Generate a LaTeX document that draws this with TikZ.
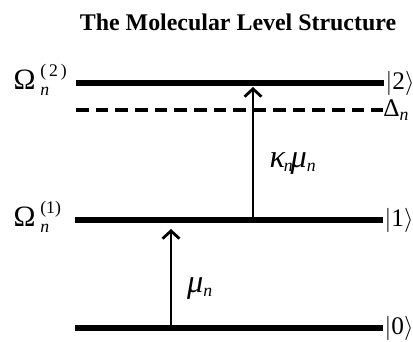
\documentclass[tikz,border=0pt]{standalone}
\usepackage{fontspec}
\setmainfont{Liberation Serif}
\usepackage{amsmath}
\usetikzlibrary{arrows.meta,positioning}
\tikzset{
  level/.style={line width=3.8pt},
  virtual/.style={line width=2.8pt, dash pattern=on 9pt off 5pt},
  trans/.style={line width=2pt, -{Straight Barb[length=5.5pt,width=12pt,line width=2pt]}},
  lbl/.style={font=\fontsize{18}{20}\selectfont, inner sep=1pt},
}
\newcommand{\sub}[1]{\textsubscript{\textit{#1}}}
\newcommand{\gk}[1]{{\fontsize{23}{25}\selectfont\textit{#1}}}
\begin{document}
\begin{tikzpicture}[x=0.025cm,y=-0.025cm]
        \useasboundingbox (0,0) rectangle (413,341);
        % Title
        \node[font=\bfseries\fontsize{17}{19}\selectfont] (title) at (238,22) {The Molecular Level Structure};

        % Level end points
        \coordinate (L2a) at (76,83);  \coordinate (L2b) at (384,83);
        \coordinate (Da)  at (76,110); \coordinate (Db)  at (383,110);
        \coordinate (L1a) at (75,220); \coordinate (L1b) at (383,220);
        \coordinate (L0a) at (75,328); \coordinate (L0b) at (383,328);

        % Draw the levels
        \draw[level] (L2a) -- (L2b);
        \draw[virtual] (Da) -- (Db);
        \draw[level] (L1a) -- (L1b);
        \draw[level] (L0a) -- (L0b);

        % Transitions
        \coordinate (t1s) at (171,326); \coordinate (t1e) at (171,229);
        \coordinate (t2s) at (253,218); \coordinate (t2e) at (253,87);
        \draw[trans] (t1s) -- (t1e);
        \draw[trans] (t2s) -- (t2e);

        % Labels
        \node[lbl] (mu) at (200,289) {\gk{μ}\sub{n}};
        \node[lbl] (kmu) at (293,164) {\gk{κ}\kern-1pt\sub{n}\kern-2pt\gk{μ}\sub{n}};
        \node[lbl, anchor=west] (k2) at (L2b) {$|\text{2}\rangle$};
        \node[lbl, anchor=west, inner sep=0pt] (dn) at (Db) {Δ\sub{n}};
        \node[lbl, anchor=west] (k1) at (L1b) {$|\text{1}\rangle$};
        \node[lbl, anchor=west] (k0) at (L0b) {$|\text{0}\rangle$};
        \node[lbl, anchor=west] (om2) at (12,80) {$\text{\fontsize{21}{23}\selectfont Ω}_{\;\textit{n}}^{\;\text{(\,2\,)}}$};
        \node[lbl, anchor=west] (om1) at (12,217) {$\text{\fontsize{21}{23}\selectfont Ω}_{\;\textit{n}}^{\;\text{(1)}}$};
\end{tikzpicture}
\end{document}
